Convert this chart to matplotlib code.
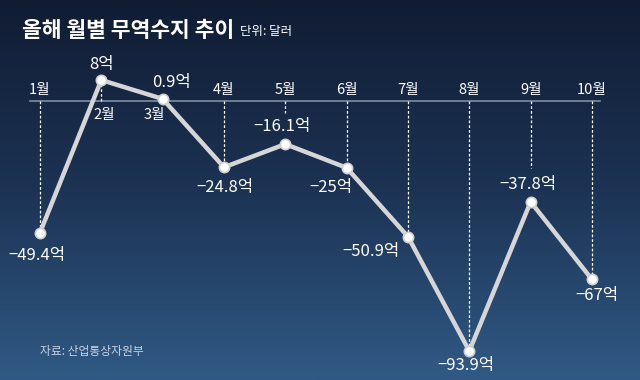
import numpy as np
import matplotlib
matplotlib.use('Agg')
import matplotlib.pyplot as plt

plt.rcParams['font.family'] = ['Noto Sans CJK KR', 'DejaVu Sans']

months = ['1월', '2월', '3월', '4월', '5월', '6월', '7월', '8월', '9월', '10월']
balance = [-49.4, 8, 0.9, -24.8, -16.1, -25, -50.9, -93.9, -37.8, -67]
value_labels = ['−49.4억', '8억', '0.9억', '−24.8억', '−16.1억', '−25억',
                '−50.9억', '−93.9억', '−37.8억', '−67억']

# label placement: (dx, dy in data units)
offsets = [(-0.05, -8.5), (0.0, 5.8), (0.15, 6.0),
           (0.02, -7.5), (-0.05, 6.5), (-0.25, -7.5),
           (-0.6, -5.5), (-0.05, -5.5), (-0.05, 6.5),
           (0.08, -6.0)]
month_dx = [0, 0.05, -0.13, 0, 0, 0, 0, 0, 0, 0]
# where the dotted guide stops (None = at the point)
guide_end = [None, None, None, None, -4.5, None, None, None, -25, None]

fig = plt.figure(figsize=(6.4, 3.8), dpi=100)
ax = fig.add_axes([0, 0, 1, 1])
x = np.arange(len(months))
x0, x1, y0, y1 = -0.652, 9.783, -104.8, 38.1

# background gradient, dark at the top
grad = np.linspace(0, 1, 256).reshape(-1, 1)
cmap = matplotlib.colors.LinearSegmentedColormap.from_list('bg', ['#111c33', '#1c3354', '#305a85'])
ax.imshow(grad, aspect='auto', cmap=cmap, extent=[x0, x1, y0, y1],
          origin='upper', zorder=0)
ax.set_xlim(x0, x1)
ax.set_ylim(y0, y1)
ax.axis('off')

# baseline
ax.plot([-0.16, 9.13], [0, 0], color='#7e8da3', lw=1.2, zorder=1)

# dotted guides
for i, v in enumerate(balance):
    end = guide_end[i] if guide_end[i] is not None else v
    ax.plot([i, i], [0, end], color='white', lw=0.9, ls=(0, (2.2, 1.6)), zorder=2)

# main line
ax.plot(x, balance, color='#d6d6d6', lw=3.2, zorder=3, solid_capstyle='round')
ax.scatter(x, balance, s=55, color='white', edgecolor='#cfcfcf', linewidth=1.2, zorder=4)

# month labels
for i, m in enumerate(months):
    if balance[i] > 0:
        ax.text(i + month_dx[i], -2.4, m, color='white', fontsize=10.5, ha='center', va='top', zorder=5)
    else:
        ax.text(i + month_dx[i], 1.6, m, color='white', fontsize=10.5, ha='center', va='bottom', zorder=5)

# value labels
for i, (v, lab) in enumerate(zip(balance, value_labels)):
    dx, dy = offsets[i]
    ax.text(i + dx, v + dy, lab, color='white', fontsize=12, ha='center', va='center', zorder=5)

fig.text(0.034, 0.92, '올해 월별 무역수지 추이', color='white', fontsize=15.5,
         fontweight='bold', ha='left', va='center')
fig.text(0.375, 0.917, '단위: 달러', color='white', fontsize=9, ha='left', va='center')
fig.text(0.062, 0.075, '자료: 산업통상자원부', color='#c9d3e0', fontsize=8.5, ha='left', va='center')

fig.savefig('out.png', dpi=100)
